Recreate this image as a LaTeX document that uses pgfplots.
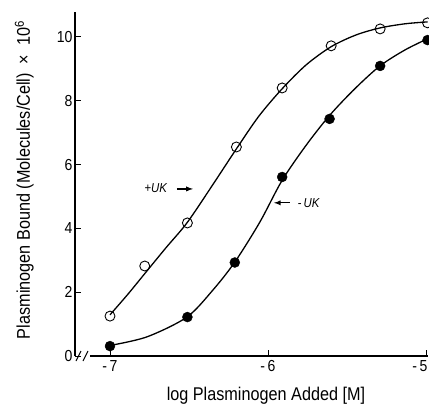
\documentclass[border=0pt]{standalone}
\usepackage{fontspec}
\setmainfont{Liberation Sans}[FakeStretch=0.88]
\usepackage{pgfplots}
\pgfplotsset{compat=1.18}

% fitted curves
\pgfplotstableread{
x       y
-7.000  1.29
-6.886  1.94
-6.772  2.63
-6.646  3.39
-6.513  4.17
-6.361  5.28
-6.196  6.52
-6.057  7.52
-5.911  8.37
-5.759  9.12
-5.601  9.69
-5.443  10.06
-5.291  10.28
-5.133  10.41
-4.990  10.47
}\curveplus
\pgfplotstableread{
x       y
-7.000  0.33
-6.766  0.60
-6.513  1.22
-6.348  2.07
-6.209  2.95
-6.051  4.20
-5.911  5.50
-5.759  6.60
-5.608  7.55
-5.449  8.38
-5.291  9.09
-5.133  9.59
-4.990  9.94
}\curveminus

\begin{document}
\begin{tikzpicture}
\begin{axis}[
    scale only axis,
    width=353bp, height=344bp,
    xmin=-7.2215, xmax=-4.987,
    ymin=0, ymax=10.78,
    axis x line=bottom, axis y line=left,
    axis line style={-, line width=1.2bp},
    x axis line style={draw=none},
    xtick={-7,-6,-5}, xticklabels={-\,7,-\,6,\hspace*{-12bp}-\,5},
    ytick={0,2,...,10},
    tick align=inside, major tick length=6bp,
    tick style={black, line width=0.8bp},
    tick label style={font=\fontsize{16}{17}\selectfont},
    /pgf/number format/assume math mode=true,
    yticklabel style={xshift=1bp},
    xticklabel style={yshift=-1bp},
    xlabel={log Plasminogen Added [M]},
    ylabel={Plasminogen Bound (Molecules/Cell)\ \ ×\ \ 10\textsuperscript{6}},
    label style={font=\fontsize{18.5}{20}\selectfont},
    xlabel style={at={([yshift=-44bp]rel axis cs:0.541,0)}, anchor=base},
    ylabel style={at={([xshift=-45bp]rel axis cs:0,0.512)}, anchor=base},
    clip=false,
]
\addplot[black, line width=1.3bp, smooth, no marks] table {\curveplus};
\addplot[black, line width=1.3bp, smooth, no marks] table {\curveminus};
% +UK
\addplot[only marks, mark=o, mark size=5bp,
    mark options={fill=white, draw=black, line width=0.9bp}] coordinates {
    (-7.00,1.25) (-6.78,2.82) (-6.51,4.17) (-6.20,6.55) (-5.91,8.40)
    (-5.60,9.72) (-5.29,10.25) (-4.99,10.44)};
% -UK
\addplot[only marks, mark=*, mark size=5bp, mark options={fill=black}] coordinates {
    (-7.00,0.31) (-6.51,1.22) (-6.21,2.93) (-5.91,5.61)
    (-5.61,7.43) (-5.29,9.09) (-4.99,9.90)};

\draw[line width=1.2bp] (axis cs:-7.127,0) -- (axis cs:-4.987,0);
\draw[line width=1bp] (axis cs:-7.2215,0) ++(1bp,-5bp) -- ++(5bp,10bp);
\draw[line width=1bp] (axis cs:-7.2215,0) ++(8bp,-5bp) -- ++(5bp,10bp);

\node[font=\fontsize{13}{14}\selectfont] at (axis cs:-6.709,5.27) {+\textit{UK}};
\draw[-latex, line width=1.3bp] (axis cs:-6.576,5.235) -- (axis cs:-6.475,5.235);
\node[font=\fontsize{13}{14}\selectfont] at (axis cs:-5.741,4.80) {-\,\textit{UK}};
\draw[-latex, line width=1.3bp] (axis cs:-5.861,4.80) -- (axis cs:-5.962,4.80);
\end{axis}
\pgfresetboundingbox
\path[use as bounding box] ([shift={(-75bp,-50bp)}]current axis.south west)
    rectangle ++(429bp,406bp);
\end{tikzpicture}
\end{document}
